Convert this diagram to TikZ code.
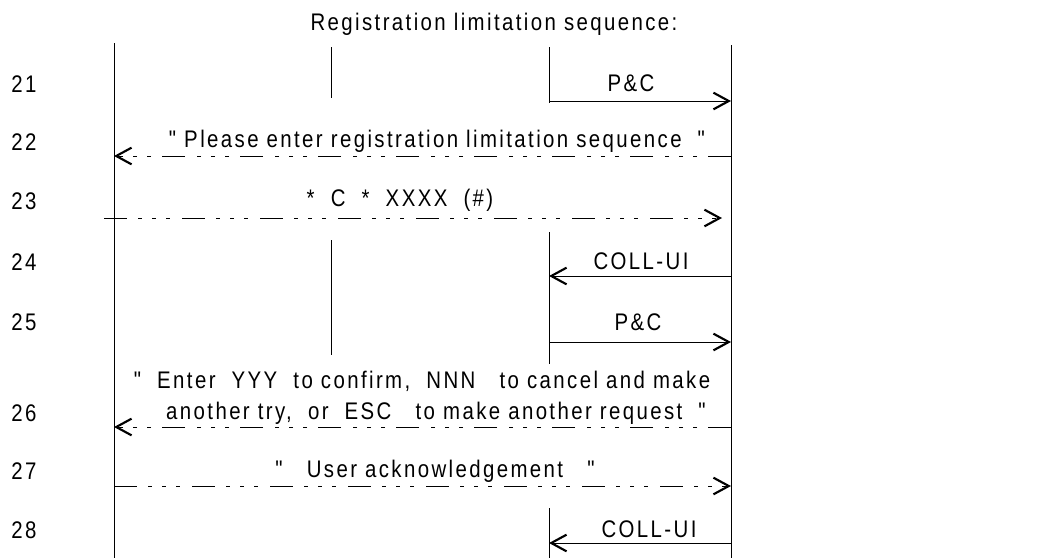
\documentclass[tikz,border=0pt]{standalone}
\usepackage{fontspec}
\setmainfont{Liberation Sans}[FakeStretch=0.85,LetterSpace=10,Ligatures=TeXOff]
\usetikzlibrary{arrows.meta, calc, positioning}

\begin{document}
\begin{tikzpicture}[x=0.75pt,y=-0.75pt,line width=0.75pt,
  >={Straight Barb[length=11.5pt,width=12.5pt,line width=1.6pt]},
  every node/.style={font=\fontsize{18}{22}\selectfont, inner sep=0pt},
  msg/.style={->},
  dashdot/.style={->, dash pattern=on 17pt off 8.5pt on 3pt off 7.5pt on 3pt off 7.5pt on 3pt off 9pt}]
\useasboundingbox (0,0) rectangle (1045,558);

% Lifelines
\coordinate (A) at (114,43);
\coordinate (B) at (331,47);
\coordinate (C) at (549,47);
\coordinate (D) at (731,45);
\draw (A) -- (114,558);
\draw (D) -- (731,558);
\draw (B) -- (331,98);
\draw (331,240) -- (331,355);
\draw (C) -- (549,103);
\draw (549,232) -- (549,364);
\draw (549,508) -- (549,558);

% Rows
\coordinate (m21) at (0,101);
\coordinate (m22) at (0,156);
\coordinate (m24) at (0,276);
\coordinate (m25) at (0,342);
\coordinate (m26) at (0,427);
\coordinate (m27) at (0,486);
\coordinate (m28) at (0,543);
\coordinate (s23) at (104,218);
\coordinate (e23) at (722,218);

% Messages
\draw [msg] (C |- m21) -- (D |- m21);
\draw [dashdot] (D |- m22) -- (A |- m22);
\draw [dashdot] (s23) -- (e23);
\draw [msg] (D |- m24) -- (C |- m24);
\draw [msg] (C |- m25) -- (D |- m25);
\draw [dashdot] (D |- m26) -- (A |- m26);
\draw [dashdot] (A |- m27) -- (D |- m27);
\draw [msg] (D |- m28) -- (C |- m28);

% Labels
\node (title) at (494,24) {Registration limitation sequence:};
\node (t21) at (631,83) {P\&C};
\node (t22) at (437,141) {"\ Please enter registration limitation sequence\ \ "};
\node (t23) at (400,200) {*\ \ C\ \ *\ \ XXXX\ \ (\#)};
\node (t24) at (641,261) {COLL-UI};
\node (t25) at (638,322) {P\&C};
\node (t26a) at (422,381) {"\ \ Enter\ \ YYY\ \ to confirm,\ \ NNN\ \ \ to cancel and make};
\node (t26b) at (436,413) {another try,\ \ or\ \ ESC\ \ \ to make another request\ \ "};
\node (t27) at (435,471) {"\ \ \ User acknowledgement\ \ \ "};
\node (t28) at (649,529) {COLL-UI};

% Row numbers
\foreach \n/\y in {21/84,22/142,23/201,24/262,25/322,26/413,27/471,28/530}
  \node (n\n) at (24,\y) {\n};
\end{tikzpicture}
\end{document}
